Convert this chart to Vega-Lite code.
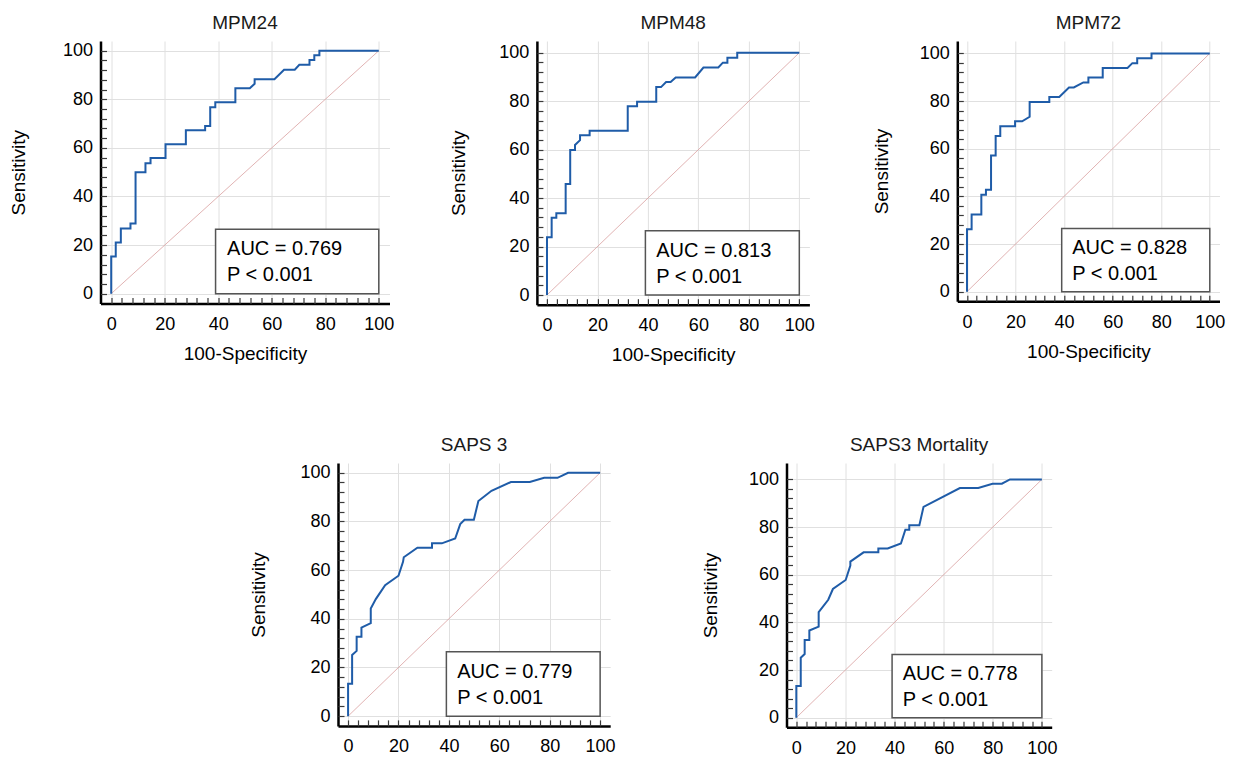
{
  "$schema": "https://vega.github.io/schema/vega-lite/v6.json",
  "padding": {"left": 8.5, "top": 14, "right": 5, "bottom": 0},
  "background": "white",
  "spacing": 71,
  "config": {
    "view": {"stroke": null},
    "font": "Liberation Sans",
    "title": {"font": "Liberation Sans", "fontSize": 19, "fontWeight": "normal", "color": "#1a1a1a", "offset": 8},
    "axis": {
      "domainColor": "#000000", "domainWidth": 2.5,
      "labelFont": "Liberation Sans", "labelFontSize": 18, "labelColor": "#000000",
      "titleFont": "Liberation Sans", "titleFontSize": 19, "titleFontWeight": "normal", "titleColor": "#000000",
      "gridColor": "#e0e0e0", "gridWidth": 1, "labelOverlap": false, "labelFlush": false
    }
  },
  "datasets": {
    "roc": [
      {"panel": "MPM24", "i": 1, "x": 0, "y": 0}, {"panel": "MPM24", "i": 2, "x": 0, "y": 15.3}, {"panel": "MPM24", "i": 3, "x": 1.7, "y": 15.3}, {"panel": "MPM24", "i": 4, "x": 1.7, "y": 21.1}, {"panel": "MPM24", "i": 5, "x": 3.6, "y": 21.1}, {"panel": "MPM24", "i": 6, "x": 3.6, "y": 26.8}, {"panel": "MPM24", "i": 7, "x": 7.2, "y": 26.8}, {"panel": "MPM24", "i": 8, "x": 7.2, "y": 28.9}, {"panel": "MPM24", "i": 9, "x": 9.1, "y": 28.9}, {"panel": "MPM24", "i": 10, "x": 9.1, "y": 50}, {"panel": "MPM24", "i": 11, "x": 12.8, "y": 50}, {"panel": "MPM24", "i": 12, "x": 12.8, "y": 53.7}, {"panel": "MPM24", "i": 13, "x": 14.7, "y": 53.7}, {"panel": "MPM24", "i": 14, "x": 14.7, "y": 55.8}, {"panel": "MPM24", "i": 15, "x": 20.3, "y": 55.8}, {"panel": "MPM24", "i": 16, "x": 20.3, "y": 61.5}, {"panel": "MPM24", "i": 17, "x": 27.9, "y": 61.5}, {"panel": "MPM24", "i": 18, "x": 27.9, "y": 67.3}, {"panel": "MPM24", "i": 19, "x": 35.1, "y": 67.3}, {"panel": "MPM24", "i": 20, "x": 35.1, "y": 69}, {"panel": "MPM24", "i": 21, "x": 37, "y": 69}, {"panel": "MPM24", "i": 22, "x": 37, "y": 76.7}, {"panel": "MPM24", "i": 23, "x": 38.9, "y": 76.7}, {"panel": "MPM24", "i": 24, "x": 38.9, "y": 78.8}, {"panel": "MPM24", "i": 25, "x": 46.4, "y": 78.8}, {"panel": "MPM24", "i": 26, "x": 46.4, "y": 84.6}, {"panel": "MPM24", "i": 27, "x": 51.8, "y": 84.6}, {"panel": "MPM24", "i": 28, "x": 53.6, "y": 86.4}, {"panel": "MPM24", "i": 29, "x": 53.6, "y": 88.3}, {"panel": "MPM24", "i": 30, "x": 61, "y": 88.3}, {"panel": "MPM24", "i": 31, "x": 64.6, "y": 92.2}, {"panel": "MPM24", "i": 32, "x": 68.6, "y": 92.2}, {"panel": "MPM24", "i": 33, "x": 70.3, "y": 94.2}, {"panel": "MPM24", "i": 34, "x": 74.1, "y": 94.2}, {"panel": "MPM24", "i": 35, "x": 74.1, "y": 96.2}, {"panel": "MPM24", "i": 36, "x": 75.9, "y": 96.2}, {"panel": "MPM24", "i": 37, "x": 75.9, "y": 98.1}, {"panel": "MPM24", "i": 38, "x": 77.8, "y": 98.1}, {"panel": "MPM24", "i": 39, "x": 77.8, "y": 100}, {"panel": "MPM24", "i": 40, "x": 100, "y": 100},

      {"panel": "MPM48", "i": 1, "x": 0, "y": 0}, {"panel": "MPM48", "i": 2, "x": 0, "y": 23.8}, {"panel": "MPM48", "i": 3, "x": 1.85, "y": 23.8}, {"panel": "MPM48", "i": 4, "x": 1.85, "y": 31.9}, {"panel": "MPM48", "i": 5, "x": 3.7, "y": 31.9}, {"panel": "MPM48", "i": 6, "x": 3.7, "y": 33.7}, {"panel": "MPM48", "i": 7, "x": 7.4, "y": 33.7}, {"panel": "MPM48", "i": 8, "x": 7.4, "y": 45.8}, {"panel": "MPM48", "i": 9, "x": 9.2, "y": 45.8}, {"panel": "MPM48", "i": 10, "x": 9.2, "y": 59.8}, {"panel": "MPM48", "i": 11, "x": 11.1, "y": 59.8}, {"panel": "MPM48", "i": 12, "x": 11.1, "y": 61.9}, {"panel": "MPM48", "i": 13, "x": 13.1, "y": 63.9}, {"panel": "MPM48", "i": 14, "x": 13.1, "y": 65.9}, {"panel": "MPM48", "i": 15, "x": 16.9, "y": 65.9}, {"panel": "MPM48", "i": 16, "x": 16.9, "y": 67.8}, {"panel": "MPM48", "i": 17, "x": 32, "y": 67.8}, {"panel": "MPM48", "i": 18, "x": 32, "y": 77.9}, {"panel": "MPM48", "i": 19, "x": 35.7, "y": 77.9}, {"panel": "MPM48", "i": 20, "x": 35.7, "y": 79.8}, {"panel": "MPM48", "i": 21, "x": 43.3, "y": 79.8}, {"panel": "MPM48", "i": 22, "x": 43.3, "y": 85.8}, {"panel": "MPM48", "i": 23, "x": 45.2, "y": 85.8}, {"panel": "MPM48", "i": 24, "x": 47.2, "y": 87.9}, {"panel": "MPM48", "i": 25, "x": 49, "y": 87.9}, {"panel": "MPM48", "i": 26, "x": 51, "y": 89.8}, {"panel": "MPM48", "i": 27, "x": 58.7, "y": 89.8}, {"panel": "MPM48", "i": 28, "x": 62, "y": 93.9}, {"panel": "MPM48", "i": 29, "x": 67.9, "y": 93.9}, {"panel": "MPM48", "i": 30, "x": 69.7, "y": 95.9}, {"panel": "MPM48", "i": 31, "x": 71.5, "y": 95.9}, {"panel": "MPM48", "i": 32, "x": 71.5, "y": 97.9}, {"panel": "MPM48", "i": 33, "x": 75.4, "y": 97.9}, {"panel": "MPM48", "i": 34, "x": 75.4, "y": 100}, {"panel": "MPM48", "i": 35, "x": 100, "y": 100},

      {"panel": "MPM72", "i": 1, "x": 0, "y": 0}, {"panel": "MPM72", "i": 2, "x": 0, "y": 26.2}, {"panel": "MPM72", "i": 3, "x": 1.9, "y": 26.2}, {"panel": "MPM72", "i": 4, "x": 1.9, "y": 32.4}, {"panel": "MPM72", "i": 5, "x": 5.9, "y": 32.4}, {"panel": "MPM72", "i": 6, "x": 5.9, "y": 40.7}, {"panel": "MPM72", "i": 7, "x": 7.8, "y": 40.7}, {"panel": "MPM72", "i": 8, "x": 7.8, "y": 42.8}, {"panel": "MPM72", "i": 9, "x": 9.9, "y": 42.8}, {"panel": "MPM72", "i": 10, "x": 9.9, "y": 57.1}, {"panel": "MPM72", "i": 11, "x": 11.8, "y": 57.1}, {"panel": "MPM72", "i": 12, "x": 11.8, "y": 65.3}, {"panel": "MPM72", "i": 13, "x": 13.7, "y": 65.3}, {"panel": "MPM72", "i": 14, "x": 13.7, "y": 69.4}, {"panel": "MPM72", "i": 15, "x": 19.8, "y": 69.4}, {"panel": "MPM72", "i": 16, "x": 19.8, "y": 71.5}, {"panel": "MPM72", "i": 17, "x": 22.7, "y": 71.5}, {"panel": "MPM72", "i": 18, "x": 25.8, "y": 73.4}, {"panel": "MPM72", "i": 19, "x": 25.8, "y": 79.6}, {"panel": "MPM72", "i": 20, "x": 33.9, "y": 79.6}, {"panel": "MPM72", "i": 21, "x": 33.9, "y": 81.7}, {"panel": "MPM72", "i": 22, "x": 38, "y": 81.7}, {"panel": "MPM72", "i": 23, "x": 42, "y": 85.7}, {"panel": "MPM72", "i": 24, "x": 44, "y": 85.7}, {"panel": "MPM72", "i": 25, "x": 47.9, "y": 87.8}, {"panel": "MPM72", "i": 26, "x": 50, "y": 87.8}, {"panel": "MPM72", "i": 27, "x": 50, "y": 89.9}, {"panel": "MPM72", "i": 28, "x": 55.9, "y": 89.9}, {"panel": "MPM72", "i": 29, "x": 55.9, "y": 93.9}, {"panel": "MPM72", "i": 30, "x": 66.1, "y": 93.9}, {"panel": "MPM72", "i": 31, "x": 68.1, "y": 95.9}, {"panel": "MPM72", "i": 32, "x": 70.1, "y": 95.9}, {"panel": "MPM72", "i": 33, "x": 70.1, "y": 98}, {"panel": "MPM72", "i": 34, "x": 76, "y": 98}, {"panel": "MPM72", "i": 35, "x": 76, "y": 100}, {"panel": "MPM72", "i": 36, "x": 100, "y": 100},

      {"panel": "SAPS 3", "i": 1, "x": 0, "y": 0}, {"panel": "SAPS 3", "i": 2, "x": 0, "y": 13.3}, {"panel": "SAPS 3", "i": 3, "x": 1.6, "y": 13.3}, {"panel": "SAPS 3", "i": 4, "x": 1.6, "y": 25.1}, {"panel": "SAPS 3", "i": 5, "x": 3.4, "y": 26.8}, {"panel": "SAPS 3", "i": 6, "x": 3.4, "y": 32.6}, {"panel": "SAPS 3", "i": 7, "x": 5.3, "y": 32.6}, {"panel": "SAPS 3", "i": 8, "x": 5.3, "y": 36.4}, {"panel": "SAPS 3", "i": 9, "x": 9, "y": 38.2}, {"panel": "SAPS 3", "i": 10, "x": 9, "y": 44.2}, {"panel": "SAPS 3", "i": 11, "x": 11, "y": 48.1}, {"panel": "SAPS 3", "i": 12, "x": 14.7, "y": 53.8}, {"panel": "SAPS 3", "i": 13, "x": 20, "y": 57.7}, {"panel": "SAPS 3", "i": 14, "x": 21.8, "y": 63.4}, {"panel": "SAPS 3", "i": 15, "x": 22.1, "y": 65.3}, {"panel": "SAPS 3", "i": 16, "x": 27.5, "y": 69.2}, {"panel": "SAPS 3", "i": 17, "x": 33.3, "y": 69.2}, {"panel": "SAPS 3", "i": 18, "x": 33.3, "y": 71}, {"panel": "SAPS 3", "i": 19, "x": 37.2, "y": 71}, {"panel": "SAPS 3", "i": 20, "x": 42.5, "y": 73}, {"panel": "SAPS 3", "i": 21, "x": 44.5, "y": 78.9}, {"panel": "SAPS 3", "i": 22, "x": 46.2, "y": 80.7}, {"panel": "SAPS 3", "i": 23, "x": 49.9, "y": 80.7}, {"panel": "SAPS 3", "i": 24, "x": 51.7, "y": 88.4}, {"panel": "SAPS 3", "i": 25, "x": 56.9, "y": 92.6}, {"panel": "SAPS 3", "i": 26, "x": 64.6, "y": 96.2}, {"panel": "SAPS 3", "i": 27, "x": 72.1, "y": 96.2}, {"panel": "SAPS 3", "i": 28, "x": 77.8, "y": 97.9}, {"panel": "SAPS 3", "i": 29, "x": 83.1, "y": 97.9}, {"panel": "SAPS 3", "i": 30, "x": 87.3, "y": 100}, {"panel": "SAPS 3", "i": 31, "x": 100, "y": 100},

      {"panel": "SAPS3 Mortality", "i": 1, "x": 0, "y": 0}, {"panel": "SAPS3 Mortality", "i": 2, "x": 0, "y": 13.3}, {"panel": "SAPS3 Mortality", "i": 3, "x": 1.8, "y": 13.3}, {"panel": "SAPS3 Mortality", "i": 4, "x": 1.8, "y": 25.2}, {"panel": "SAPS3 Mortality", "i": 5, "x": 3.4, "y": 26.7}, {"panel": "SAPS3 Mortality", "i": 6, "x": 3.4, "y": 32.6}, {"panel": "SAPS3 Mortality", "i": 7, "x": 5.3, "y": 32.6}, {"panel": "SAPS3 Mortality", "i": 8, "x": 5.3, "y": 36.6}, {"panel": "SAPS3 Mortality", "i": 9, "x": 9.1, "y": 38.2}, {"panel": "SAPS3 Mortality", "i": 10, "x": 9.1, "y": 44.3}, {"panel": "SAPS3 Mortality", "i": 11, "x": 13, "y": 49.5}, {"panel": "SAPS3 Mortality", "i": 12, "x": 14.9, "y": 54}, {"panel": "SAPS3 Mortality", "i": 13, "x": 20.1, "y": 57.8}, {"panel": "SAPS3 Mortality", "i": 14, "x": 22, "y": 63.8}, {"panel": "SAPS3 Mortality", "i": 15, "x": 22, "y": 65.5}, {"panel": "SAPS3 Mortality", "i": 16, "x": 27.4, "y": 69.4}, {"panel": "SAPS3 Mortality", "i": 17, "x": 33.4, "y": 69.4}, {"panel": "SAPS3 Mortality", "i": 18, "x": 33.4, "y": 71}, {"panel": "SAPS3 Mortality", "i": 19, "x": 37.2, "y": 71}, {"panel": "SAPS3 Mortality", "i": 20, "x": 42.6, "y": 73.1}, {"panel": "SAPS3 Mortality", "i": 21, "x": 44.4, "y": 78.9}, {"panel": "SAPS3 Mortality", "i": 22, "x": 46, "y": 78.9}, {"panel": "SAPS3 Mortality", "i": 23, "x": 46, "y": 80.8}, {"panel": "SAPS3 Mortality", "i": 24, "x": 50.1, "y": 80.8}, {"panel": "SAPS3 Mortality", "i": 25, "x": 51.8, "y": 88.5}, {"panel": "SAPS3 Mortality", "i": 26, "x": 66.6, "y": 96.4}, {"panel": "SAPS3 Mortality", "i": 27, "x": 74.1, "y": 96.4}, {"panel": "SAPS3 Mortality", "i": 28, "x": 79.9, "y": 98.2}, {"panel": "SAPS3 Mortality", "i": 29, "x": 83.7, "y": 98.2}, {"panel": "SAPS3 Mortality", "i": 30, "x": 87, "y": 100}, {"panel": "SAPS3 Mortality", "i": 31, "x": 100, "y": 100}
    ]
  },
  "vconcat": [
    {
      "bounds": "flush",
      "spacing": 147.4,
      "hconcat": [
        {
          "width": 289, "height": 262.4,
          "title": {"text": "MPM24"},
          "data": {"values": [{"auc": "AUC = 0.769", "p": "P < 0.001"}]},
          "resolve": {"axis": {"x": "independent", "y": "independent"}},
          "layer": [
            {"mark": {"type": "rule", "color": "#d9a0a0", "strokeWidth": 0.8},
             "encoding": {
               "x": {"datum": 0, "type": "quantitative", "scale": {"domain": [-4, 104], "nice": false, "zero": false},
                 "axis": {"orient": "bottom", "title": "100-Specificity", "values": [0, 20, 40, 60, 80, 100], "ticks": false, "grid": true, "labelPadding": 12, "titlePadding": 11}},
               "y": {"datum": 0, "type": "quantitative", "scale": {"domain": [-4, 104], "nice": false, "zero": false},
                 "axis": {"orient": "left", "title": "Sensitivity", "values": [0, 20, 40, 60, 80, 100], "ticks": false, "grid": true, "labelPadding": 8, "titlePadding": 34}},
               "x2": {"datum": 100}, "y2": {"datum": 100}}},
            {"data": {"name": "roc"}, "transform": [{"filter": "datum.panel === 'MPM24'"}],
             "mark": {"type": "line", "color": "#1f5ca8", "strokeWidth": 2},
             "encoding": {"x": {"field": "x", "type": "quantitative", "axis": null}, "y": {"field": "y", "type": "quantitative", "axis": null}, "order": {"field": "i", "type": "quantitative"}}},
            {"mark": {"type": "rect", "fill": "white", "stroke": "#555555", "strokeWidth": 1.5},
             "encoding": {"x": {"datum": 39, "type": "quantitative", "axis": null}, "x2": {"datum": 100}, "y": {"datum": 0, "type": "quantitative", "axis": null}, "y2": {"datum": 26.5}}},
            {"mark": {"type": "text", "align": "left", "baseline": "alphabetic", "fontSize": 20, "font": "Liberation Sans", "color": "#000000"},
             "encoding": {"x": {"datum": 43.3, "type": "quantitative", "axis": null}, "y": {"datum": 15.8, "type": "quantitative", "axis": null}, "text": {"field": "auc"}}},
            {"mark": {"type": "text", "align": "left", "baseline": "alphabetic", "fontSize": 20, "font": "Liberation Sans", "color": "#000000"},
             "encoding": {"x": {"datum": 43.3, "type": "quantitative", "axis": null}, "y": {"datum": 5.1, "type": "quantitative", "axis": null}, "text": {"field": "p"}}},
            {"mark": {"type": "point", "opacity": 0},
             "encoding": {
               "x": {"datum": 0, "type": "quantitative", "axis": {"orient": "bottom", "title": null, "values": [0,4,8,12,16,20,24,28,32,36,40,44,48,52,56,60,64,68,72,76,80,84,88,92,96,100], "labels": false, "domain": false, "grid": false, "tickSize": -6, "tickWidth": 1.2, "tickColor": "#3a3a3a"}},
               "y": {"datum": 0, "type": "quantitative", "axis": {"orient": "left", "title": null, "values": [0,4,8,12,16,20,24,28,32,36,40,44,48,52,56,60,64,68,72,76,80,84,88,92,96,100], "labels": false, "domain": false, "grid": false, "tickSize": -6, "tickWidth": 1.2, "tickColor": "#3a3a3a"}}}}
          ]
        },
        {
          "width": 272.5, "height": 263.7,
          "title": {"text": "MPM48"},
          "data": {"values": [{"auc": "AUC = 0.813", "p": "P < 0.001"}]},
          "resolve": {"axis": {"x": "independent", "y": "independent"}},
          "layer": [
            {"mark": {"type": "rule", "color": "#d9a0a0", "strokeWidth": 0.8},
             "encoding": {
               "x": {"datum": 0, "type": "quantitative", "scale": {"domain": [-4, 104], "nice": false, "zero": false},
                 "axis": {"orient": "bottom", "title": "100-Specificity", "values": [0, 20, 40, 60, 80, 100], "ticks": false, "grid": true, "labelPadding": 12, "titlePadding": 11}},
               "y": {"datum": 0, "type": "quantitative", "scale": {"domain": [-4, 104.83], "nice": false, "zero": false},
                 "axis": {"orient": "left", "title": "Sensitivity", "values": [0, 20, 40, 60, 80, 100], "ticks": false, "grid": true, "labelPadding": 8, "titlePadding": 30}},
               "x2": {"datum": 100}, "y2": {"datum": 100}}},
            {"data": {"name": "roc"}, "transform": [{"filter": "datum.panel === 'MPM48'"}],
             "mark": {"type": "line", "color": "#1f5ca8", "strokeWidth": 2},
             "encoding": {"x": {"field": "x", "type": "quantitative", "axis": null}, "y": {"field": "y", "type": "quantitative", "axis": null}, "order": {"field": "i", "type": "quantitative"}}},
            {"mark": {"type": "rect", "fill": "white", "stroke": "#555555", "strokeWidth": 1.5},
             "encoding": {"x": {"datum": 39, "type": "quantitative", "axis": null}, "x2": {"datum": 100}, "y": {"datum": 0, "type": "quantitative", "axis": null}, "y2": {"datum": 26.5}}},
            {"mark": {"type": "text", "align": "left", "baseline": "alphabetic", "fontSize": 20, "font": "Liberation Sans", "color": "#000000"},
             "encoding": {"x": {"datum": 43.3, "type": "quantitative", "axis": null}, "y": {"datum": 15.8, "type": "quantitative", "axis": null}, "text": {"field": "auc"}}},
            {"mark": {"type": "text", "align": "left", "baseline": "alphabetic", "fontSize": 20, "font": "Liberation Sans", "color": "#000000"},
             "encoding": {"x": {"datum": 43.3, "type": "quantitative", "axis": null}, "y": {"datum": 5.1, "type": "quantitative", "axis": null}, "text": {"field": "p"}}},
            {"mark": {"type": "point", "opacity": 0},
             "encoding": {
               "x": {"datum": 0, "type": "quantitative", "axis": {"orient": "bottom", "title": null, "values": [0,4,8,12,16,20,24,28,32,36,40,44,48,52,56,60,64,68,72,76,80,84,88,92,96,100], "labels": false, "domain": false, "grid": false, "tickSize": -6, "tickWidth": 1.2, "tickColor": "#3a3a3a"}},
               "y": {"datum": 0, "type": "quantitative", "axis": {"orient": "left", "title": null, "values": [0,4,8,12,16,20,24,28,32,36,40,44,48,52,56,60,64,68,72,76,80,84,88,92,96,100], "labels": false, "domain": false, "grid": false, "tickSize": -6, "tickWidth": 1.2, "tickColor": "#3a3a3a"}}}}
          ]
        },
        {
          "width": 262.2, "height": 260.2,
          "title": {"text": "MPM72"},
          "data": {"values": [{"auc": "AUC = 0.828", "p": "P < 0.001"}]},
          "resolve": {"axis": {"x": "independent", "y": "independent"}},
          "layer": [
            {"mark": {"type": "rule", "color": "#d9a0a0", "strokeWidth": 0.8},
             "encoding": {
               "x": {"datum": 0, "type": "quantitative", "scale": {"domain": [-4, 104], "nice": false, "zero": false},
                 "axis": {"orient": "bottom", "title": "100-Specificity", "values": [0, 20, 40, 60, 80, 100], "ticks": false, "grid": true, "labelPadding": 12, "titlePadding": 11}},
               "y": {"datum": 0, "type": "quantitative", "scale": {"domain": [-4, 105.2], "nice": false, "zero": false},
                 "axis": {"orient": "left", "title": "Sensitivity", "values": [0, 20, 40, 60, 80, 100], "ticks": false, "grid": true, "labelPadding": 8, "titlePadding": 28}},
               "x2": {"datum": 100}, "y2": {"datum": 100}}},
            {"data": {"name": "roc"}, "transform": [{"filter": "datum.panel === 'MPM72'"}],
             "mark": {"type": "line", "color": "#1f5ca8", "strokeWidth": 2},
             "encoding": {"x": {"field": "x", "type": "quantitative", "axis": null}, "y": {"field": "y", "type": "quantitative", "axis": null}, "order": {"field": "i", "type": "quantitative"}}},
            {"mark": {"type": "rect", "fill": "white", "stroke": "#555555", "strokeWidth": 1.5},
             "encoding": {"x": {"datum": 39, "type": "quantitative", "axis": null}, "x2": {"datum": 100}, "y": {"datum": 0, "type": "quantitative", "axis": null}, "y2": {"datum": 26.5}}},
            {"mark": {"type": "text", "align": "left", "baseline": "alphabetic", "fontSize": 20, "font": "Liberation Sans", "color": "#000000"},
             "encoding": {"x": {"datum": 43.3, "type": "quantitative", "axis": null}, "y": {"datum": 15.8, "type": "quantitative", "axis": null}, "text": {"field": "auc"}}},
            {"mark": {"type": "text", "align": "left", "baseline": "alphabetic", "fontSize": 20, "font": "Liberation Sans", "color": "#000000"},
             "encoding": {"x": {"datum": 43.3, "type": "quantitative", "axis": null}, "y": {"datum": 5.1, "type": "quantitative", "axis": null}, "text": {"field": "p"}}},
            {"mark": {"type": "point", "opacity": 0},
             "encoding": {
               "x": {"datum": 0, "type": "quantitative", "axis": {"orient": "bottom", "title": null, "values": [0,4,8,12,16,20,24,28,32,36,40,44,48,52,56,60,64,68,72,76,80,84,88,92,96,100], "labels": false, "domain": false, "grid": false, "tickSize": -6, "tickWidth": 1.2, "tickColor": "#3a3a3a"}},
               "y": {"datum": 0, "type": "quantitative", "axis": {"orient": "left", "title": null, "values": [0,4,8,12,16,20,24,28,32,36,40,44,48,52,56,60,64,68,72,76,80,84,88,92,96,100], "labels": false, "domain": false, "grid": false, "tickSize": -6, "tickWidth": 1.2, "tickColor": "#3a3a3a"}}}}
          ]
        }
      ]
    },
    {
      "bounds": "flush",
      "spacing": 175.5,
      "hconcat": [
        {"width": 61.4, "height": 1, "data": {"values": [{}]}, "mark": {"type": "point", "opacity": 0}, "encoding": {}},
        {
          "width": 272.2, "height": 262.9,
          "title": {"text": "SAPS 3"},
          "data": {"values": [{"auc": "AUC = 0.779", "p": "P < 0.001"}]},
          "resolve": {"axis": {"x": "independent", "y": "independent"}},
          "layer": [
            {"mark": {"type": "rule", "color": "#d9a0a0", "strokeWidth": 0.8},
             "encoding": {
               "x": {"datum": 0, "type": "quantitative", "scale": {"domain": [-4, 104], "nice": false, "zero": false},
                 "axis": {"orient": "bottom", "title": null, "values": [0, 20, 40, 60, 80, 100], "ticks": false, "grid": true, "labelPadding": 12}},
               "y": {"datum": 0, "type": "quantitative", "scale": {"domain": [-4, 104], "nice": false, "zero": false},
                 "axis": {"orient": "left", "title": "Sensitivity", "values": [0, 20, 40, 60, 80, 100], "ticks": false, "grid": true, "labelPadding": 8, "titlePadding": 31}},
               "x2": {"datum": 100}, "y2": {"datum": 100}}},
            {"data": {"name": "roc"}, "transform": [{"filter": "datum.panel === 'SAPS 3'"}],
             "mark": {"type": "line", "color": "#1f5ca8", "strokeWidth": 2},
             "encoding": {"x": {"field": "x", "type": "quantitative", "axis": null}, "y": {"field": "y", "type": "quantitative", "axis": null}, "order": {"field": "i", "type": "quantitative"}}},
            {"mark": {"type": "rect", "fill": "white", "stroke": "#555555", "strokeWidth": 1.5},
             "encoding": {"x": {"datum": 39, "type": "quantitative", "axis": null}, "x2": {"datum": 100}, "y": {"datum": 0, "type": "quantitative", "axis": null}, "y2": {"datum": 26.5}}},
            {"mark": {"type": "text", "align": "left", "baseline": "alphabetic", "fontSize": 20, "font": "Liberation Sans", "color": "#000000"},
             "encoding": {"x": {"datum": 43.3, "type": "quantitative", "axis": null}, "y": {"datum": 15.8, "type": "quantitative", "axis": null}, "text": {"field": "auc"}}},
            {"mark": {"type": "text", "align": "left", "baseline": "alphabetic", "fontSize": 20, "font": "Liberation Sans", "color": "#000000"},
             "encoding": {"x": {"datum": 43.3, "type": "quantitative", "axis": null}, "y": {"datum": 5.1, "type": "quantitative", "axis": null}, "text": {"field": "p"}}},
            {"mark": {"type": "point", "opacity": 0},
             "encoding": {
               "x": {"datum": 0, "type": "quantitative", "axis": {"orient": "bottom", "title": null, "values": [0,4,8,12,16,20,24,28,32,36,40,44,48,52,56,60,64,68,72,76,80,84,88,92,96,100], "labels": false, "domain": false, "grid": false, "tickSize": -6, "tickWidth": 1.2, "tickColor": "#3a3a3a"}},
               "y": {"datum": 0, "type": "quantitative", "axis": {"orient": "left", "title": null, "values": [0,4,8,12,16,20,24,28,32,36,40,44,48,52,56,60,64,68,72,76,80,84,88,92,96,100], "labels": false, "domain": false, "grid": false, "tickSize": -6, "tickWidth": 1.2, "tickColor": "#3a3a3a"}}}}
          ]
        },
        {
          "width": 265.2, "height": 264.2,
          "title": {"text": "SAPS3 Mortality"},
          "data": {"values": [{"auc": "AUC = 0.778", "p": "P < 0.001"}]},
          "resolve": {"axis": {"x": "independent", "y": "independent"}},
          "layer": [
            {"mark": {"type": "rule", "color": "#d9a0a0", "strokeWidth": 0.8},
             "encoding": {
               "x": {"datum": 0, "type": "quantitative", "scale": {"domain": [-4, 104], "nice": false, "zero": false},
                 "axis": {"orient": "bottom", "title": null, "values": [0, 20, 40, 60, 80, 100], "ticks": false, "grid": true, "labelPadding": 12}},
               "y": {"datum": 0, "type": "quantitative", "scale": {"domain": [-4, 106.9], "nice": false, "zero": false},
                 "axis": {"orient": "left", "title": "Sensitivity", "values": [0, 20, 40, 60, 80, 100], "ticks": false, "grid": true, "labelPadding": 8, "titlePadding": 28}},
               "x2": {"datum": 100}, "y2": {"datum": 100}}},
            {"data": {"name": "roc"}, "transform": [{"filter": "datum.panel === 'SAPS3 Mortality'"}],
             "mark": {"type": "line", "color": "#1f5ca8", "strokeWidth": 2},
             "encoding": {"x": {"field": "x", "type": "quantitative", "axis": null}, "y": {"field": "y", "type": "quantitative", "axis": null}, "order": {"field": "i", "type": "quantitative"}}},
            {"mark": {"type": "rect", "fill": "white", "stroke": "#555555", "strokeWidth": 1.5},
             "encoding": {"x": {"datum": 39, "type": "quantitative", "axis": null}, "x2": {"datum": 100}, "y": {"datum": 0, "type": "quantitative", "axis": null}, "y2": {"datum": 26.5}}},
            {"mark": {"type": "text", "align": "left", "baseline": "alphabetic", "fontSize": 20, "font": "Liberation Sans", "color": "#000000"},
             "encoding": {"x": {"datum": 43.3, "type": "quantitative", "axis": null}, "y": {"datum": 15.8, "type": "quantitative", "axis": null}, "text": {"field": "auc"}}},
            {"mark": {"type": "text", "align": "left", "baseline": "alphabetic", "fontSize": 20, "font": "Liberation Sans", "color": "#000000"},
             "encoding": {"x": {"datum": 43.3, "type": "quantitative", "axis": null}, "y": {"datum": 5.1, "type": "quantitative", "axis": null}, "text": {"field": "p"}}},
            {"mark": {"type": "point", "opacity": 0},
             "encoding": {
               "x": {"datum": 0, "type": "quantitative", "axis": {"orient": "bottom", "title": null, "values": [0,4,8,12,16,20,24,28,32,36,40,44,48,52,56,60,64,68,72,76,80,84,88,92,96,100], "labels": false, "domain": false, "grid": false, "tickSize": -6, "tickWidth": 1.2, "tickColor": "#3a3a3a"}},
               "y": {"datum": 0, "type": "quantitative", "axis": {"orient": "left", "title": null, "values": [0,4,8,12,16,20,24,28,32,36,40,44,48,52,56,60,64,68,72,76,80,84,88,92,96,100], "labels": false, "domain": false, "grid": false, "tickSize": -6, "tickWidth": 1.2, "tickColor": "#3a3a3a"}}}}
          ]
        }
      ]
    }
  ]
}
